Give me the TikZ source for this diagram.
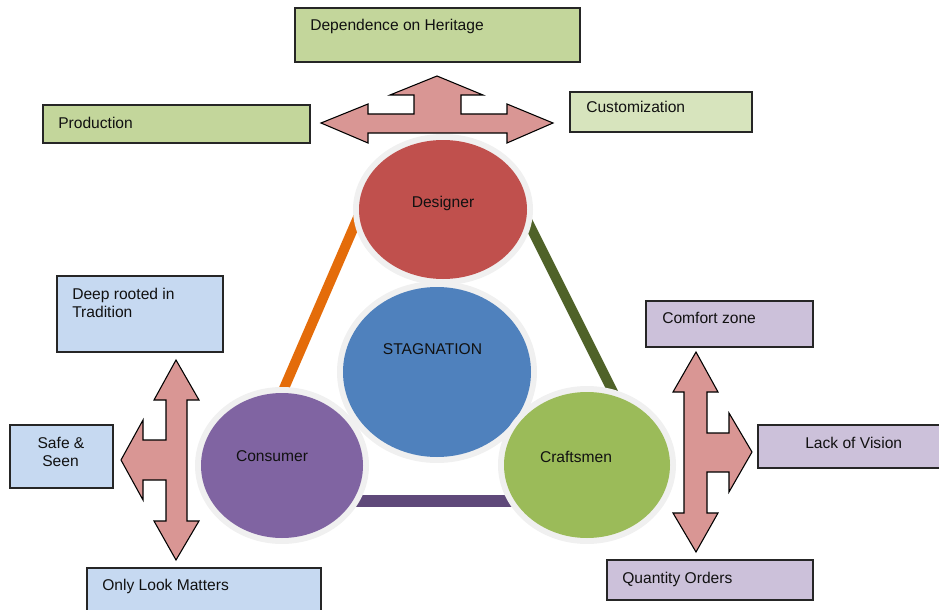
\documentclass[tikz,border=0pt]{standalone}
\usepackage{fontspec}
\setmainfont{Liberation Sans}
\usetikzlibrary{shapes.geometric}
\definecolor{cDes}{HTML}{C0504D}
\definecolor{cSta}{HTML}{4F81BD}
\definecolor{cCon}{HTML}{8064A2}
\definecolor{cCra}{HTML}{9BBB59}
\definecolor{cOra}{HTML}{E46C0A}
\definecolor{cOli}{HTML}{4F6228}
\definecolor{cPur}{HTML}{5F497A}
\definecolor{cHalo}{HTML}{F0F0F0}
\definecolor{cArr}{HTML}{D99694}
\definecolor{cGreen}{HTML}{C3D69B}
\definecolor{cLGreen}{HTML}{D7E4BD}
\definecolor{cBlue}{HTML}{C6D9F1}
\definecolor{cLil}{HTML}{CCC1DA}
\definecolor{cLine}{HTML}{262626}
\definecolor{cTxt}{HTML}{111111}
\begin{document}
\begin{tikzpicture}[x=0.75pt,y=-0.75pt,
  box/.style={draw=cLine, line width=0.9pt, rectangle, inner sep=0pt},
  halo/.style={ellipse, fill=cHalo, inner sep=0pt},
  disc/.style={ellipse, inner sep=0pt},
  lbl/.style={font=\fontsize{11.7}{13.5}\selectfont, text=cTxt, inner sep=0pt},
  bar/.style={line width=7.5pt},
  arr/.style={fill=cArr, draw=black, line width=0.8pt, line join=miter}]
\useasboundingbox (0,0) rectangle (939,610);
\clip (0,0) rectangle (939,610);

% triangle bars
\coordinate (oA) at (359,215);
\coordinate (oB) at (279,400);
\coordinate (gA) at (524.5,215);
\coordinate (gB) at (617,400);
\coordinate (pA) at (330,501);
\coordinate (pB) at (540,501);
\draw[bar, cOra] (oA) -- (oB);
\draw[bar, cOli] (gA) -- (gB);
\draw[bar, line width=8.5pt, cPur] (pA) -- (pB);

% arrows
\draw[arr] (437,76) -- (483,95) -- (461,95) -- (461,114) -- (507,114) -- (507,104)
  -- (553,123) -- (507,143) -- (507,133) -- (368,133) -- (368,143) -- (321,123)
  -- (368,104) -- (368,114) -- (414,114) -- (414,95) -- (390,95) -- cycle;
\draw[arr] (176,360) -- (199,400) -- (187,400) -- (187,521) -- (199,521) -- (176,560)
  -- (154,521) -- (166,521) -- (166,480) -- (143,480) -- (143,500) -- (121,460)
  -- (143,420) -- (143,440) -- (166,440) -- (166,400) -- (154,400) -- cycle;
\draw[arr] (696,352) -- (718,392) -- (707,392) -- (707,433) -- (729,433) -- (729,413)
  -- (752,452) -- (729,492) -- (729,472) -- (707,472) -- (707,513) -- (718,513)
  -- (696,552) -- (673,513) -- (684,513) -- (684,392) -- (673,392) -- cycle;

% circles
\node[halo, minimum width={200*0.75pt}, minimum height={182*0.75pt}] (staH) at (437,372) {};
\node[disc, fill=cSta, minimum width={188*0.75pt}, minimum height={170*0.75pt}] (sta) at (437,372) {};
\node[halo, minimum width={180*0.75pt}, minimum height={151*0.75pt}] (desH) at (443,209.5) {};
\node[disc, fill=cDes, minimum width={168*0.75pt}, minimum height={139*0.75pt}] (des) at (443,209.5) {};
\node[halo, minimum width={174*0.75pt}, minimum height={157*0.75pt}] (conH) at (282,465.5) {};
\node[disc, fill=cCon, minimum width={162*0.75pt}, minimum height={145*0.75pt}] (con) at (282,465.5) {};
\node[halo, minimum width={178*0.75pt}, minimum height={158*0.75pt}] (craH) at (587,465) {};
\node[disc, fill=cCra, minimum width={166*0.75pt}, minimum height={146*0.75pt}] (cra) at (587,465) {};

% boxes
\node[box, fill=cGreen, minimum width={285*0.75pt}, minimum height={54*0.75pt}] (depB) at (437.5,35) {};
\node[box, fill=cGreen, minimum width={267*0.75pt}, minimum height={38*0.75pt}] (proB) at (176.5,124) {};
\node[box, fill=cLGreen, minimum width={182*0.75pt}, minimum height={40*0.75pt}] (cusB) at (661,112) {};
\node[box, fill=cBlue, minimum width={166*0.75pt}, minimum height={76*0.75pt}] (deeB) at (140,314) {};
\node[box, fill=cBlue, minimum width={103*0.75pt}, minimum height={63*0.75pt}] (safB) at (61.5,456.5) {};
\node[box, fill=cBlue, minimum width={234*0.75pt}, minimum height={52*0.75pt}] (onlB) at (204,594) {};
\node[box, fill=cLil, minimum width={167*0.75pt}, minimum height={46*0.75pt}] (comB) at (729.5,324) {};
\node[box, fill=cLil, minimum width={187*0.75pt}, minimum height={43*0.75pt}] (lacB) at (851.5,446.5) {};
\node[box, fill=cLil, minimum width={206*0.75pt}, minimum height={40*0.75pt}] (quaB) at (710,580) {};

% labels
\node[lbl, anchor=base west] (depT) at (310,31) {Dependence on Heritage};
\node[lbl, anchor=base west] (proT) at (58,128) {Production};
\node[lbl, anchor=base west] (cusT) at (586,113) {Customization};
\node[lbl, anchor=base west] (deeT1) at (72,299) {Deep rooted in};
\node[lbl, anchor=base west] (deeT2) at (72,317) {Tradition};
\node[lbl, anchor=base] (safT1) at (61,448) {Safe \&};
\node[lbl, anchor=base] (safT2) at (60.5,466) {Seen};
\node[lbl, anchor=base west] (onlT) at (102,590) {Only Look Matters};
\node[lbl, anchor=base west] (comT) at (662,323) {Comfort zone};
\node[lbl, anchor=base west] (lacT) at (805,448) {Lack of Vision};
\node[lbl, anchor=base west] (quaT) at (622,583) {Quantity Orders};
\node[lbl, anchor=base] (desT) at (443,207) {Designer};
\node[lbl, anchor=base] (staT) at (432.5,354) {STAGNATION};
\node[lbl, anchor=base] (conT) at (272,461) {Consumer};
\node[lbl, anchor=base] (craT) at (576,462) {Craftsmen};
\end{tikzpicture}
\end{document}
